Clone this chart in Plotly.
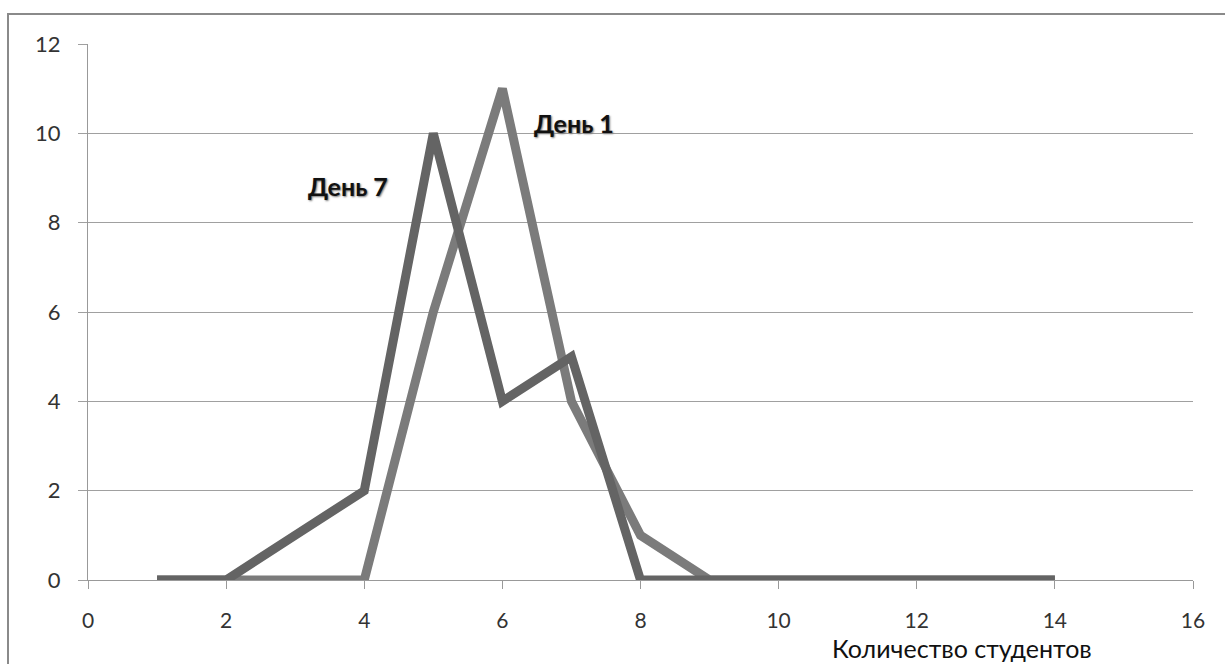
import plotly.graph_objects as go

x_vals = list(range(1, 15))
day7 = [0, 0, 1, 2, 10, 4, 5, 0, 0, 0, 0, 0, 0, 0]
day1 = [0, 0, 0, 0, 6, 11, 4, 1, 0, 0, 0, 0, 0, 0]
x_ticks = [0, 2, 4, 6, 8, 10, 12, 14, 16]
y_ticks = [0, 2, 4, 6, 8, 10, 12]

fig = go.Figure()
fig.add_trace(go.Scatter(x=x_vals, y=day1, mode="lines", name="День 1",
                         line=dict(color="#7b7b7b", width=9)))
fig.add_trace(go.Scatter(x=x_vals, y=day7, mode="lines", name="День 7",
                         line=dict(color="#646464", width=9)))

font_main = "Lato, 'Open Sans', sans-serif"

fig.update_layout(
    width=1225, height=664,
    margin=dict(l=88, r=32, t=44, b=84),
    paper_bgcolor="white", plot_bgcolor="white",
    showlegend=False,
    font=dict(family=font_main, size=21, color="#333"),
    xaxis=dict(range=[0, 16], tickvals=x_ticks, showgrid=False, zeroline=False,
               showline=True, linecolor="#999", linewidth=1,
               ticks="outside", ticklen=8, tickcolor="#999",
               ticklabelstandoff=14,
               tickfont=dict(family=font_main, size=21, color="#333")),
    yaxis=dict(range=[0, 12], tickvals=y_ticks, showgrid=True, gridcolor="#a0a0a0",
               gridwidth=1, zeroline=False, showline=True, linecolor="#999",
               linewidth=1, ticks="outside", ticklen=9, tickcolor="#a0a0a0",
               ticklabelstandoff=13,
               tickfont=dict(family=font_main, size=22, color="#333")),
    shapes=[dict(type="rect", xref="paper", yref="paper",
                 x0=-0.0724, x1=1.2, y0=-0.3, y1=1.056,
                 line=dict(color="#8a8a8a", width=2), layer="below")],
    annotations=[
        dict(x=3.77, y=8.82, xref="x", yref="y", text="<b>День 7</b>", showarrow=False,
             xanchor="center", yanchor="middle",
             font=dict(family=font_main, size=25, color="#111", shadow="1px 1px 2px #777")),
        dict(x=7.04, y=10.23, xref="x", yref="y", text="<b>День 1</b>", showarrow=False,
             xanchor="center", yanchor="middle",
             font=dict(family=font_main, size=25, color="#111", shadow="1px 1px 2px #777")),
        dict(x=0.791, y=-0.127, xref="paper", yref="paper", text="Количество студентов",
             showarrow=False, xanchor="center", yanchor="middle",
             font=dict(family=font_main, size=25, color="#111")),
    ],
)

fig.write_html("out.html")
